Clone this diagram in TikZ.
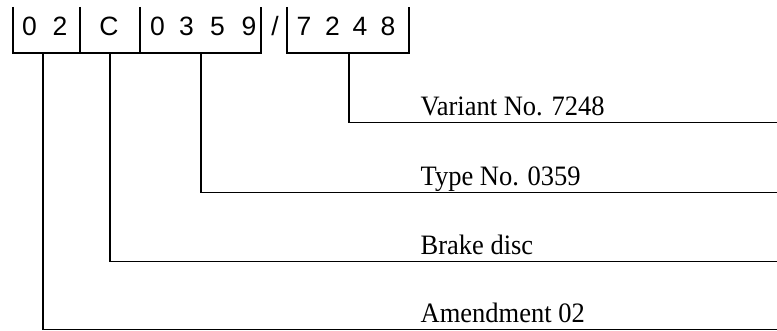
\documentclass[tikz,border=0pt]{standalone}
\usepackage{fontspec}
\setmainfont{Liberation Serif}
\newfontfamily\digfont{Liberation Sans}
\newcommand{\tallbox}[1]{\scalebox{1}[1.06]{#1}}
\begin{document}
\begin{tikzpicture}[x=1pt,y=-1pt,line width=1.3pt,
  dig/.style={inner sep=0pt,anchor=base,font=\digfont\fontsize{26.5}{30}\selectfont},
  lbl/.style={inner sep=0pt,anchor=base west,font=\fontsize{26.5}{30}\selectfont},
  conn/.style={draw=black,line width=1.3pt}]
\useasboundingbox (0,0) rectangle (777,331);
% digits
\node[dig] (a1) at (29.5,36) {0};
\node[dig] (a2) at (60,36) {2};
\node[dig] (c1) at (109,36) {C};
\node[dig] (t1) at (157.5,36) {0};
\node[dig] (t2) at (186.5,36) {3};
\node[dig] (t3) at (217.5,36) {5};
\node[dig] (t4) at (249,36) {9};
\node[dig] (sl) at (275,36) {/};
\node[dig] (v1) at (304,36) {7};
\node[dig] (v2) at (332.5,36) {2};
\node[dig] (v3) at (360,36) {4};
\node[dig] (v4) at (388,36) {8};
% brackets
\draw (13,7) -- (13,53) -- (261,53) -- (261,7);
\draw (80,7) -- (80,53);
\draw (140,7) -- (140,53);
\draw (287,7) -- (287,53) -- (409,53) -- (409,7);
% tick coordinates
\coordinate (pa) at (43,53);
\coordinate (pc) at (110,53);
\coordinate (pt) at (201,53);
\coordinate (pv) at (349,53);
\coordinate (ev) at (777,122.7);
\coordinate (et) at (777,192.3);
\coordinate (ec) at (777,261.7);
\coordinate (ea) at (777,329.5);
% labels
\node[lbl] (lv) at (420,116) {\tallbox{Variant No. 7248}};
\node[lbl] (lt) at (420,185.5) {\tallbox{Type No. 0359}};
\node[lbl] (lc) at (420,254.5) {\tallbox{Brake disc}};
\node[lbl] (la) at (420,322.5) {\tallbox{Amendment 02}};
% connectors
\draw[conn] (pv) |- (ev);
\draw[conn] (pt) |- (et);
\draw[conn] (pc) |- (ec);
\draw[conn] (pa) |- (ea);
\end{tikzpicture}
\end{document}
